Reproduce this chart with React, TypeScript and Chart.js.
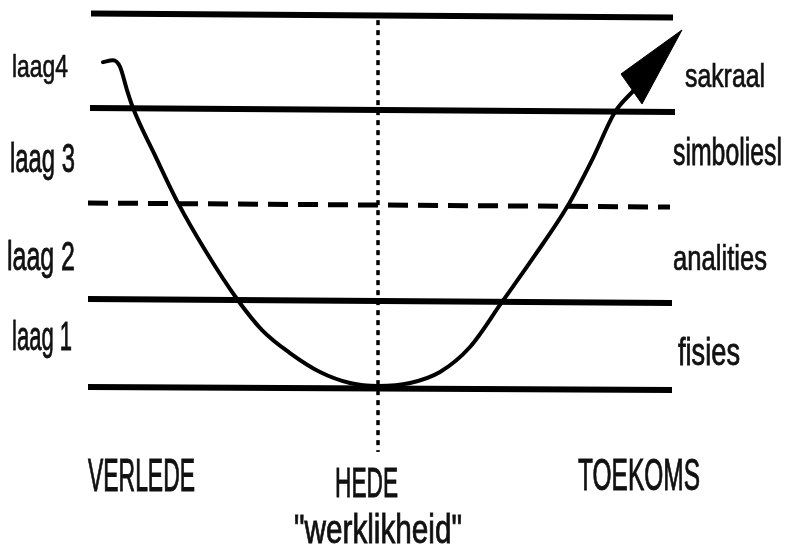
import React, { useEffect, useRef } from "react";
import { Chart, registerables } from "chart.js";

Chart.register(...registerables);

// ---- Text content ----
const levelNames = ["laag 1", "laag 2", "laag 3", "laag4"];
const realmNames = ["fisies", "analities", "simboliesl", "sakraal"];
const timeLabels = ["VERLEDE", "HEDE", "TOEKOMS"];
const realityLabel = "\"werklikheid\"";

// ---- Layer boundary lines (x = time, y = level) ----
const boundaryLeftX = [-2.9, -2.9, -2.9, -2.88, -2.87];
const boundaryRightX = [2.94, 2.94, 2.92, 2.97, 2.95];
const boundaryLeftY = [0.016, 0.96, 1.989, 3.008, 4.021];
const boundaryRightY = [-0.016, 0.917, 1.946, 2.965, 3.979];
const boundaryDashed = [false, false, true, false, false];

// ---- Curve through the layers ----
const curveX = [-2.75, -2.65, -2.58, -2.51, -2.45, -2.23, -2.0, -1.73, -1.41, -1.16, -0.88, -0.58, -0.28, 0, 0.32, 0.62, 0.92, 1.24, 1.57, 1.89, 2.14, 2.37, 2.56];
const curveY = [3.5, 3.52, 3.45, 3.2, 3.008, 2.5, 1.99, 1.485, 0.96, 0.627, 0.38, 0.177, 0.059, 0.027, 0.059, 0.177, 0.445, 0.928, 1.43, 1.946, 2.45, 2.965, 3.2];

// ---- Arrow head ----
const arrowX = [3.04, 2.43, 2.64, 3.04];
const arrowY = [3.845, 3.373, 3.051, 3.845];

// ---- "Now" marker (dotted vertical) ----
const nowX = [0, 0];
const nowY = [3.95, -0.68];

const FONT = '"Liberation Sans", "DejaVu Sans", sans-serif';
const BASE_SIZE = 28;
const LOWER_ASC = 0.725;
const CAP_ASC = 0.688;

type LabelSpec = { text: string; x: number; y: number; w: number; h: number; r: number; align: CanvasTextAlign };

// w = rendered width (px), h = ascender/cap height (px), r = glyph height ratio
const labelSpecs: LabelSpec[] = [
  { text: levelNames[3], x: -3.66, y: 3.34, w: 56, h: 23, r: LOWER_ASC, align: "left" },
  { text: levelNames[2], x: -3.68, y: 2.32, w: 65, h: 29, r: LOWER_ASC, align: "left" },
  { text: levelNames[1], x: -3.71, y: 1.27, w: 68, h: 29, r: LOWER_ASC, align: "left" },
  { text: levelNames[0], x: -3.66, y: 0.413, w: 60, h: 29, r: LOWER_ASC, align: "left" },
  { text: realmNames[3], x: 3.07, y: 3.233, w: 80, h: 24, r: LOWER_ASC, align: "left" },
  { text: realmNames[2], x: 2.95, y: 2.397, w: 109, h: 28, r: LOWER_ASC, align: "left" },
  { text: realmNames[1], x: 2.95, y: 1.271, w: 94, h: 25, r: LOWER_ASC, align: "left" },
  { text: realmNames[0], x: 3.0, y: 0.252, w: 62, h: 28, r: LOWER_ASC, align: "left" },
  { text: timeLabels[0], x: -2.365, y: -1.099, w: 107, h: 32, r: CAP_ASC, align: "center" },
  { text: timeLabels[1], x: -0.115, y: -1.164, w: 63, h: 29, r: CAP_ASC, align: "center" },
  { text: timeLabels[2], x: 2.61, y: -1.088, w: 122, h: 30, r: CAP_ASC, align: "center" },
  { text: realityLabel, x: -0.0, y: -1.657, w: 168, h: 30, r: LOWER_ASC, align: "center" },
];

const labelPlugin = {
  id: "diagramLabels",
  afterDatasetsDraw(chart: any) {
    const { ctx, scales } = chart;
    const xs = scales.x;
    const ys = scales.y;
    for (const l of labelSpecs) {
      ctx.save();
      ctx.font = `${BASE_SIZE}px ${FONT}`;
      const mw = ctx.measureText(l.text).width || 1;
      const sx = l.w / mw;
      const sy = l.h / (l.r * BASE_SIZE);
      ctx.translate(xs.getPixelForValue(l.x), ys.getPixelForValue(l.y));
      ctx.scale(sx, sy);
      ctx.textAlign = l.align;
      ctx.textBaseline = "alphabetic";
      ctx.fillStyle = "#111";
      ctx.strokeStyle = "#111";
      ctx.lineWidth = 0.6;
      ctx.fillText(l.text, 0, 0);
      ctx.strokeText(l.text, 0, 0);
      ctx.restore();
    }
  },
};

const zip = (xs: number[], ys: number[]) => xs.map((x, i) => ({ x, y: ys[i] }));

export default function App() {
  const ref = useRef<HTMLCanvasElement | null>(null);
  useEffect(() => {
    if (!ref.current) return;
    const datasets: any[] = [];
    boundaryLeftX.forEach((lx, i) => {
      datasets.push({
        data: [
          { x: lx, y: boundaryLeftY[i] },
          { x: boundaryRightX[i], y: boundaryRightY[i] },
        ],
        borderColor: "#000",
        borderWidth: boundaryDashed[i] ? 5 : 6,
        borderDash: boundaryDashed[i] ? [20, 10] : [],
        pointRadius: 0,
        tension: 0,
        fill: false,
      });
    });
    datasets.push({
      data: zip(nowX, nowY),
      borderColor: "#000",
      borderWidth: 3.5,
      borderDash: [5, 5],
      pointRadius: 0,
      tension: 0,
      fill: false,
    });
    datasets.push({
      data: zip(curveX, curveY),
      borderColor: "#000",
      borderWidth: 4,
      borderCapStyle: "round",
      borderJoinStyle: "round",
      pointRadius: 0,
      cubicInterpolationMode: "monotone",
      fill: false,
    });
    datasets.push({
      data: zip(arrowX, arrowY),
      borderColor: "#000",
      backgroundColor: "#000",
      borderWidth: 1,
      pointRadius: 0,
      tension: 0,
      fill: "shape",
    });
    const chart = new Chart(ref.current, {
      type: "line",
      data: { datasets },
      options: {
        animation: false,
        responsive: false,
        maintainAspectRatio: false,
        layout: { padding: 0 },
        plugins: { legend: { display: false }, tooltip: { enabled: false } },
        scales: {
          x: { type: "linear", min: -3.78, max: 4.07, display: false },
          y: { type: "linear", min: -1.796, max: 4.166, display: false },
        },
      },
      plugins: [labelPlugin],
    });
    return () => chart.destroy();
  }, []);
  return (
    <div style={{ position: "fixed", left: 0, top: 0, width: 785, height: 556, background: "#fff" }}>
      <canvas ref={ref} width={785} height={556} style={{ width: 785, height: 556, display: "block" }} />
    </div>
  );
}
